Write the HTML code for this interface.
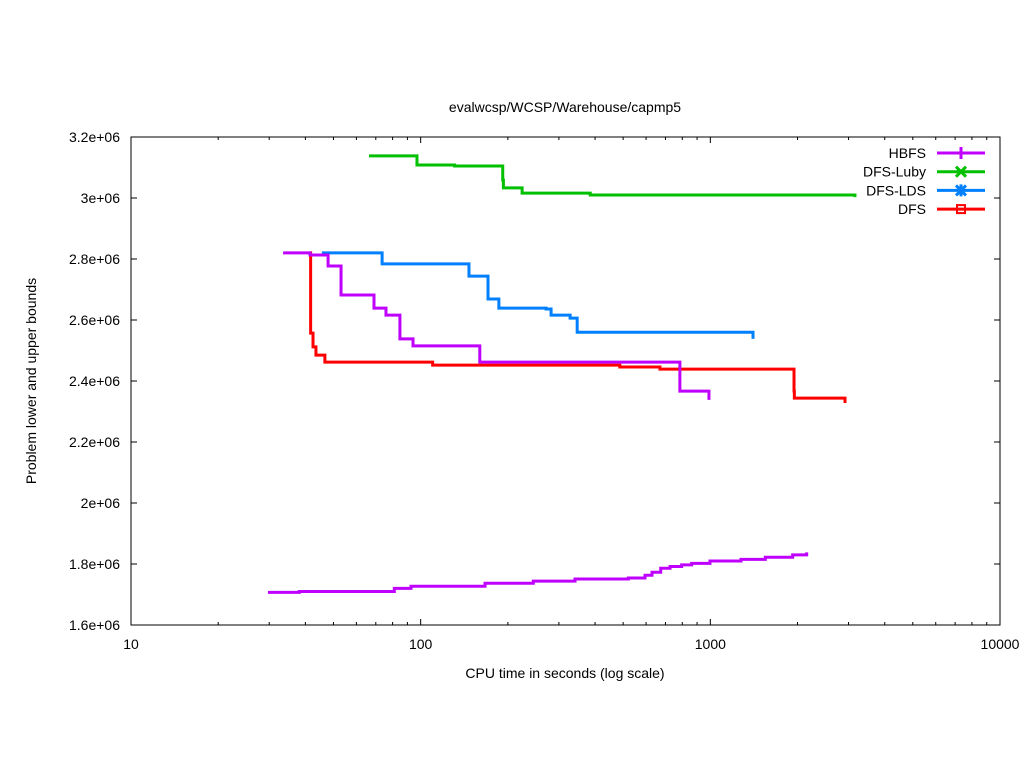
<!DOCTYPE html>
<html><head><meta charset="utf-8"><style>
body{margin:0;background:#fff}
svg text{font-family:"Liberation Sans",sans-serif;font-size:14px;fill:#000}
</style></head><body>
<svg id="c" width="1024" height="768" xmlns="http://www.w3.org/2000/svg"></svg>
<script>
const xTicks=[10,100,1000,10000];
const xTickLabels=["10","100","1000","10000"];
const yTicks=[1.6e6,1.8e6,2e6,2.2e6,2.4e6,2.6e6,2.8e6,3e6,3.2e6];
const yTickLabels=["1.6e+06","1.8e+06","2e+06","2.2e+06","2.4e+06","2.6e+06","2.8e+06","3e+06","3.2e+06"];
const seriesNames=["HBFS","DFS-Luby","DFS-LDS","DFS"];
const seriesColors=["#c000ff","#00c000","#0080ff","#ff0000"];
const hbfsUpperT=[33.5,41.5,47.9,53.1,69.0,75.9,84.8,94.1,160,785,989];
const hbfsUpperV=[2.820e6,2.813e6,2.777e6,2.682e6,2.639e6,2.616e6,2.538e6,2.515e6,2.462e6,2.367e6,2.338e6];
const hbfsLowerT=[29.7,38.1,81.1,92.6,166.8,244.8,341,521,595,629,674,726,796,862,997,1276,1548,1924,2151];
const hbfsLowerV=[1.707e6,1.710e6,1.720e6,1.727e6,1.737e6,1.744e6,1.751e6,1.754e6,1.763e6,1.773e6,1.786e6,1.792e6,1.797e6,1.802e6,1.810e6,1.815e6,1.822e6,1.830e6,1.838e6];
const lubyT=[66.3,97.1,131,192,193,224,385,3157];
const lubyV=[3.138e6,3.108e6,3.105e6,3.059e6,3.033e6,3.016e6,3.010e6,3.003e6];
const ldsT=[45.6,73.6,146.8,170.8,186.2,271,282,328,347,1404];
const ldsV=[2.820e6,2.784e6,2.744e6,2.669e6,2.639e6,2.636e6,2.616e6,2.606e6,2.560e6,2.538e6];
const dfsT=[41.2,41.7,42.5,43.5,46.7,110,487,670,1940,1945,1950,2917];
const dfsV=[2.820e6,2.557e6,2.512e6,2.485e6,2.462e6,2.452e6,2.446e6,2.439e6,2.439e6,2.367e6,2.344e6,2.328e6];

const L=131,R=1000,T=137,B=625;
const xs=t=>L+(R-L)*(Math.log10(t)-1)/3;
const ys=v=>B-(B-T)*(v-1.6e6)/1.6e6;
const svg=document.getElementById('c');
const NS="http://www.w3.org/2000/svg";
function mk(tag,attrs,parent){const e=document.createElementNS(NS,tag);for(const k in attrs)e.setAttribute(k,attrs[k]);(parent||svg).appendChild(e);return e;}

const frame=mk('rect',{x:L,y:T,width:R-L,height:B-T,fill:'none',stroke:'#000','stroke-width':1});



xTicks.forEach((t,i)=>{
  const x=xs(t);
  const tk=mk('path',{d:`M${x},${B}v-6M${x},${T}v6`,stroke:'#000'});
  
  
  const lb=mk('text',{x:x,y:B+24,'text-anchor':'middle'});lb.textContent=xTickLabels[i];
  
  
  if(i<xTicks.length-1){for(let m=2;m<10;m++){const xm=xs(t*m);
    const mt=mk('path',{d:`M${xm},${B}v-3M${xm},${T}v3`,stroke:'#000'});
    
    }}
});
yTicks.forEach((v,i)=>{
  const y=ys(v);
  const tk=mk('path',{d:`M${L},${y}h6M${R},${y}h-6`,stroke:'#000'});
  
  
  const lb=mk('text',{x:L-11,y:y+5,'text-anchor':'end'});lb.textContent=yTickLabels[i];
  
  
});
const title=mk('text',{x:565,y:112,'text-anchor':'middle'});title.textContent="evalwcsp/WCSP/Warehouse/capmp5";


const xt=mk('text',{x:565,y:678,'text-anchor':'middle'});xt.textContent="CPU time in seconds (log scale)";


const yt=mk('text',{x:0,y:0,'text-anchor':'middle',transform:'translate(36,381) rotate(-90)'});yt.textContent="Problem lower and upper bounds";



function stepPath(T_,V_){let d=`M${xs(T_[0])},${ys(V_[0])}`;for(let i=1;i<T_.length;i++){d+=`H${xs(T_[i])}V${ys(V_[i])}`;}return d;}
function line(T_,V_,color,name){const p=mk('path',{d:stepPath(T_,V_),fill:'none',stroke:color,'stroke-width':3});
  
  }
line(lubyT,lubyV,seriesColors[1],'dfs-luby-line');
line(ldsT,ldsV,seriesColors[2],'dfs-lds-line');
line(dfsT,dfsV,seriesColors[3],'dfs-line');
line(hbfsUpperT,hbfsUpperV,seriesColors[0],'hbfs-upper-line');
line(hbfsLowerT,hbfsLowerV,seriesColors[0],'hbfs-lower-line');

seriesNames.forEach((n,i)=>{
  const y=153+i*18.7;
  const g=mk('g',{});
  
  
  const t=mk('text',{x:926,y:y+5,'text-anchor':'end'},g);t.textContent=n;
  mk('path',{d:`M937,${y}H985`,stroke:seriesColors[i],'stroke-width':3},g);
  const c=961;
  if(i==0)mk('path',{d:`M${c},${y-6}v12`,stroke:seriesColors[i],'stroke-width':3},g);
  if(i==1)mk('path',{d:`M${c-5},${y-5}l10,10M${c+5},${y-5}l-10,10`,stroke:seriesColors[i],'stroke-width':3},g);
  if(i==2)mk('path',{d:`M${c-5},${y-5}l10,10M${c+5},${y-5}l-10,10M${c},${y-6}v12`,stroke:seriesColors[i],'stroke-width':3},g);
  if(i==3)mk('rect',{x:c-4,y:y-4,width:8,height:8,fill:'none',stroke:seriesColors[i],'stroke-width':2},g);
});
</script>
</body></html>
